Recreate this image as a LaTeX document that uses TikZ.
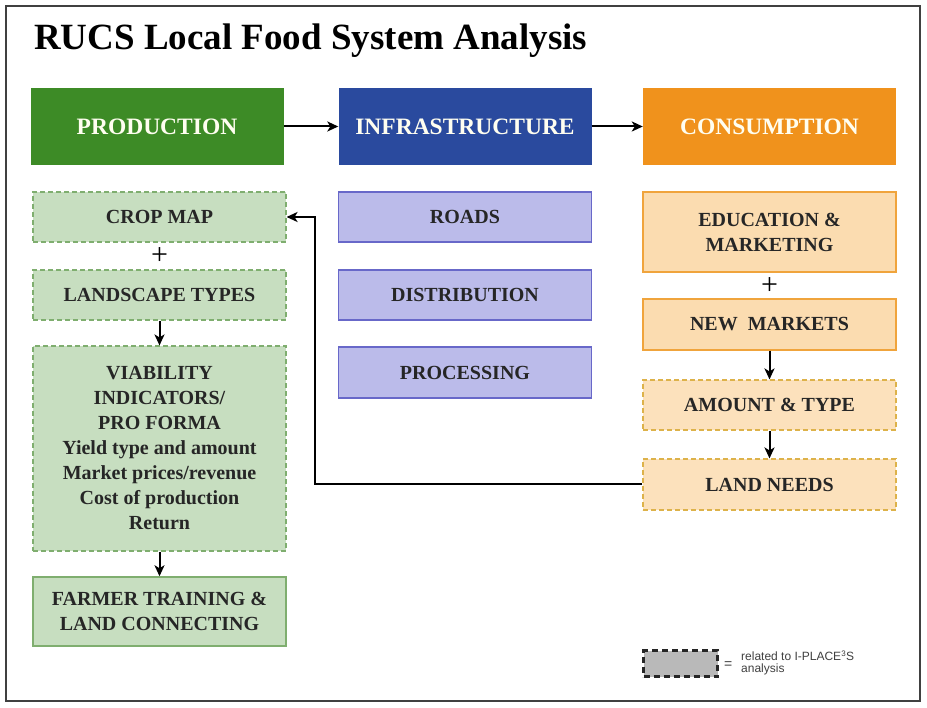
\documentclass[tikz,border=0pt]{standalone}
\usepackage{fontspec}
\setmainfont{Liberation Serif}
\newfontfamily\legendfont{Liberation Sans}
\usetikzlibrary{arrows.meta}

\definecolor{prodgreen}{HTML}{3D8B26}
\definecolor{infrablue}{HTML}{2A4A9E}
\definecolor{consorange}{HTML}{F0921C}
\definecolor{greenfill}{HTML}{C7DEC0}
\definecolor{greenline}{HTML}{7FAE6F}
\definecolor{lavfill}{HTML}{BBBBEA}
\definecolor{lavline}{HTML}{6868C9}
\definecolor{peachfill}{HTML}{FBDCB0}
\definecolor{peachline}{HTML}{F0A43C}
\definecolor{peachdash}{HTML}{DDB24A}
\definecolor{legendgray}{HTML}{B9B9B9}

\tikzset{
  header/.style={minimum width=253pt, minimum height=77pt, inner sep=0pt,
    text=white!94!yellow, font=\fontsize{23.5}{26}\selectfont\bfseries},
  itembox/.style={minimum width=253pt, inner sep=0pt, align=center,
    font=\fontsize{20}{25}\selectfont\bfseries, text=black!85},
  greendash/.style={itembox, fill=greenfill, draw=greenline, dashed, dash pattern=on 5pt off 3pt, line width=1.1pt},
  greensolid/.style={itembox, fill=greenfill, draw=greenline, line width=1.5pt},
  lavbox/.style={itembox, fill=lavfill, draw=lavline, line width=1.2pt},
  peachsolid/.style={itembox, fill=peachfill, draw=peachline, line width=1.4pt},
  peachdashed/.style={itembox, fill=peachfill!85!white, draw=peachdash, dashed, dash pattern=on 5pt off 3pt, line width=1.1pt},
  flow/.style={line width=2pt, -{Stealth[length=11pt, width=10pt, inset=3pt]}},
  plus/.style={font=\fontsize{30}{30}\selectfont, inner sep=0pt}
}

\begin{document}
\begin{tikzpicture}[x=1pt, y=-1pt]
  \useasboundingbox (0,0) rectangle (927,708);
  \fill[white] (0,0) rectangle (927,708);
  \draw[line width=1.8pt, black!75] (6,6) rectangle (920,701);

  % title
  \node[anchor=base west, inner sep=0pt, font=\fontsize{37}{40}\selectfont\bfseries] (title) at (34,50) {RUCS Local Food System Analysis};

  % column headers
  \node[header, fill=prodgreen] (prod) at (157,126.5) {PRODUCTION};
  \node[header, fill=infrablue] (infra) at (465,126.5) {INFRASTRUCTURE};
  \node[header, fill=consorange] (cons) at (769.5,126.5) {CONSUMPTION};
  \draw[flow] (prod) -- (infra);
  \draw[flow] (infra) -- (cons);

  % production column
  \node[greendash, minimum height=50pt] (crop) at (159.5,217) {CROP MAP};
  \node[plus] (plusA) at (159.5,256) {+};
  \node[greendash, minimum height=50pt] (land) at (159.5,295) {LANDSCAPE TYPES};
  \node[greendash, minimum height=205pt] (viab) at (159.5,448.5) {VIABILITY\\INDICATORS/\\PRO FORMA\\Yield type and amount\\Market prices/revenue\\Cost of production\\Return};
  \node[greensolid, minimum height=69pt] (farm) at (159.5,611.5) {FARMER TRAINING \&\\LAND CONNECTING};
  \draw[flow] (land) -- (viab);
  \draw[flow] (viab) -- (farm);

  % infrastructure column
  \node[lavbox, minimum height=50pt] (roads) at (465,217) {ROADS};
  \node[lavbox, minimum height=50pt] (dist) at (465,295) {DISTRIBUTION};
  \node[lavbox, minimum height=51pt] (proc) at (465,372.5) {PROCESSING};

  % consumption column
  \node[peachsolid, minimum height=80pt] (edu) at (769.5,232) {EDUCATION \&\\MARKETING};
  \node[plus] (plusB) at (769.5,286) {+};
  \node[peachsolid, minimum height=51pt] (newm) at (769.5,324.5) {NEW~ MARKETS};
  \node[peachdashed, minimum height=50pt] (amt) at (769.5,405) {AMOUNT \& TYPE};
  \node[peachdashed, minimum height=51pt] (needs) at (769.5,484.5) {LAND NEEDS};
  \draw[flow] (newm) -- (amt);
  \draw[flow] (amt) -- (needs);

  % feedback from land needs to crop map
  \coordinate (turnA) at (315,484.5);
  \coordinate (turnB) at (315,217);
  \draw[flow] (needs.west) -- (turnA) -- (turnB) -- (crop.east);

  % legend
  \node[fill=legendgray, draw=black!85, dashed, dash pattern=on 6pt off 4pt, line width=2.2pt, minimum width=74pt, minimum height=26pt, inner sep=0pt] (key) at (680.5,663.5) {};
  \node[anchor=west, inner sep=0pt, font=\legendfont\fontsize{14}{14}\selectfont, text=black!75] (eq) at (724,665) {=};
  \node[anchor=west, inner sep=0pt, align=left, font=\legendfont\fontsize{12}{12.5}\selectfont, text=black!75] (keytext) at (741,663) {related to I-PLACE\textsuperscript{3}S\\analysis};
\end{tikzpicture}
\end{document}
